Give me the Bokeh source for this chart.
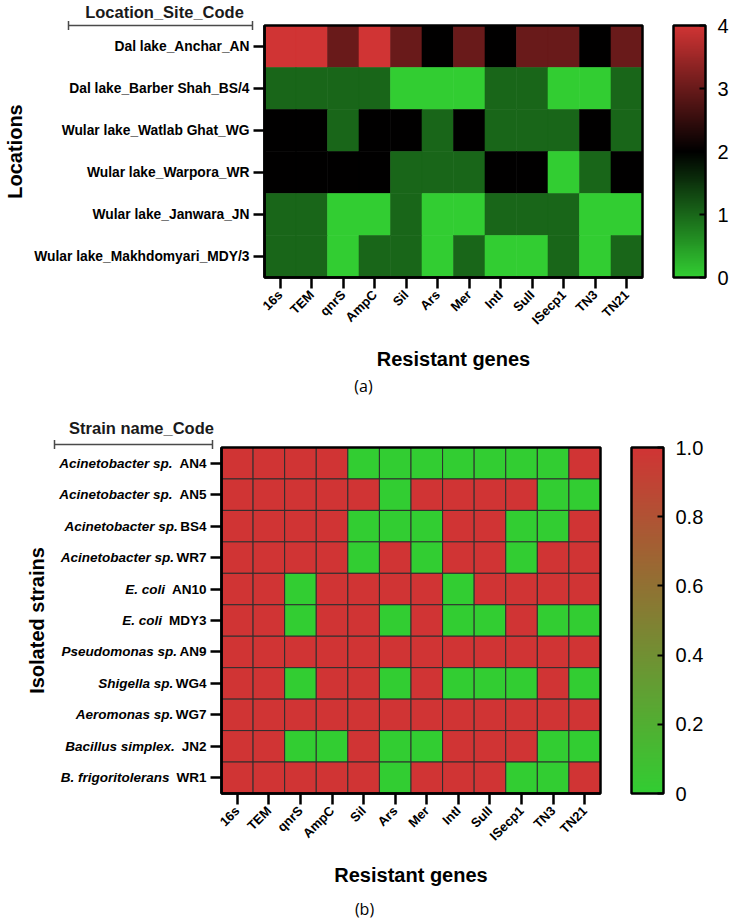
import math
from bokeh.plotting import figure
from bokeh.models import (Range1d, ColumnDataSource, LinearColorMapper, ColorBar, FixedTicker,
                          LinearAxis, Label, LabelSet, Arrow, TeeHead, PrintfTickFormatter)
from bokeh.layouts import column
from bokeh.embed import file_html
from bokeh.resources import INLINE
from bokeh.core.properties import value

# ---------------- data ----------------
genes = ["16s", "TEM", "qnrS", "AmpC", "Sil", "Ars", "Mer", "IntI", "SulI", "ISecp1", "TN3", "TN21"]

locations = ["Dal lake_Anchar_AN", "Dal lake_Barber Shah_BS/4", "Wular lake_Watlab Ghat_WG",
             "Wular lake_Warpora_WR", "Wular lake_Janwara_JN", "Wular lake_Makhdomyari_MDY/3"]
loc_anchar = [4, 4, 3, 4, 3, 2, 3, 2, 3, 3, 2, 3]
loc_barber_shah = [1, 1, 1, 1, 0, 0, 0, 1, 1, 0, 0, 1]
loc_watlab_ghat = [2, 2, 1, 2, 2, 1, 2, 1, 1, 1, 2, 1]
loc_warpora = [2, 2, 2, 2, 1, 1, 1, 2, 2, 0, 1, 2]
loc_janwara = [1, 1, 0, 0, 1, 0, 0, 1, 1, 1, 0, 0]
loc_makhdomyari = [1, 1, 0, 1, 1, 0, 1, 0, 0, 1, 0, 1]
location_values = [loc_anchar, loc_barber_shah, loc_watlab_ghat, loc_warpora, loc_janwara, loc_makhdomyari]

strain_species = ["Acinetobacter sp.", "Acinetobacter sp.", "Acinetobacter sp.", "Acinetobacter sp.",
                  "E. coli", "E. coli", "Pseudomonas sp.", "Shigella sp.", "Aeromonas sp.",
                  "Bacillus simplex.", "B. frigoritolerans"]
strain_codes = ["AN4", "AN5", "BS4", "WR7", "AN10", "MDY3", "AN9", "WG4", "WG7", "JN2", "WR1"]
strain_separators = [" ", " ", "", "", " ", " ", "", "", "", " ", " "]
st_an4 = [1, 1, 1, 1, 0, 0, 0, 0, 0, 0, 0, 1]
st_an5 = [1, 1, 1, 1, 1, 0, 1, 1, 1, 1, 0, 0]
st_bs4 = [1, 1, 1, 1, 0, 0, 0, 1, 1, 0, 0, 1]
st_wr7 = [1, 1, 1, 1, 0, 1, 0, 1, 1, 0, 1, 1]
st_an10 = [1, 1, 0, 1, 1, 1, 1, 0, 1, 1, 1, 1]
st_mdy3 = [1, 1, 0, 1, 1, 0, 1, 0, 0, 1, 0, 0]
st_an9 = [1, 1, 1, 1, 1, 1, 1, 1, 1, 1, 1, 1]
st_wg4 = [1, 1, 0, 1, 1, 0, 1, 0, 0, 0, 1, 0]
st_wg7 = [1, 1, 1, 1, 1, 1, 1, 1, 1, 1, 1, 1]
st_jn2 = [1, 1, 0, 0, 1, 0, 0, 1, 1, 1, 0, 0]
st_wr1 = [1, 1, 1, 1, 1, 0, 1, 1, 1, 0, 0, 1]
strain_values = [st_an4, st_an5, st_bs4, st_wr7, st_an10, st_mdy3, st_an9, st_wg4, st_wg7, st_jn2, st_wr1]

top_ticks = [0, 1, 2, 3, 4]
bottom_ticks = [0, 0.2, 0.4, 0.6, 0.8, 1.0]

# ---------------- style helpers ----------------
FONT = "Liberation Sans"
GREEN = (50, 205, 50)
RED = (208, 52, 52)
BLACK = (0, 0, 0)
BRACKET = "#4a4a4a"


def ramp(stops, n=256):
    out = []
    for i in range(n):
        t = i / (n - 1)
        for (p0, c0), (p1, c1) in zip(stops[:-1], stops[1:]):
            if p0 <= t <= p1:
                f = (t - p0) / (p1 - p0)
                break
        rgb = tuple(int(round(c0[k] + (c1[k] - c0[k]) * f)) for k in range(3))
        out.append("#%02x%02x%02x" % rgb)
    return out


# Liberation Sans Bold advance widths (1/1000 em), used to place the italic name part
BOLD_W = {"A": 722, "B": 722, "C": 722, "D": 722, "E": 667, "G": 778, "J": 556, "M": 833, "N": 722,
          "R": 722, "S": 667, "W": 944, "Y": 667, " ": 278}


def text_w(s, size):
    return sum(BOLD_W.get(ch, 556) for ch in s) * size / 1000.0


TICK = 11
STANDOFF = 4


def style_axis(ax, label_size):
    ax.axis_line_color = "black"
    ax.axis_line_width = 2.5
    ax.major_tick_line_color = "black"
    ax.major_tick_line_width = 2.5
    ax.major_tick_out = TICK
    ax.major_tick_in = 0
    ax.minor_tick_line_color = None
    ax.major_label_text_font = FONT
    ax.major_label_text_font_style = "bold"
    ax.major_label_text_color = "black"
    ax.major_label_text_font_size = label_size
    ax.major_label_standoff = STANDOFF
    ax.axis_label_text_font = FONT
    ax.axis_label_text_font_style = "bold"
    ax.axis_label_text_color = "black"
    ax.axis_label_text_font_size = "20px"


def heat_figure(n_rows, col_px, row_px, width, height, left_px, top_px):
    """Figure whose data unit = one heat-map cell; heat map occupies [0,n_cols]x[0,n_rows]."""
    bottom_px = height - top_px - n_rows * row_px
    p = figure(x_range=Range1d(-left_px / col_px, (width - left_px) / col_px),
               y_range=Range1d(-bottom_px / row_px, n_rows + top_px / row_px),
               width=width, height=height, min_border=0, x_axis_type=None, y_axis_type=None,
               toolbar_location=None, output_backend="svg", title=None)
    p.outline_line_color = None
    p.background_fill_color = "white"
    return p, bottom_px


def add_colorbar(p, mapper, ticks, x_px, y_px, bar_h, formatter=None, overrides=None):
    kw = {}
    if formatter is not None:
        kw["formatter"] = formatter
    cb = ColorBar(color_mapper=mapper, ticker=FixedTicker(ticks=ticks),
                  major_label_overrides=overrides or {},
                  width=32, height=bar_h, padding=0, margin=0, location=(x_px, y_px),
                  bar_line_color="black", bar_line_width=2.5,
                  major_tick_in=6, major_tick_out=0, major_tick_line_color="black",
                  major_tick_line_width=2, minor_tick_line_color=None,
                  major_label_text_font=FONT, major_label_text_font_size="20px",
                  major_label_text_color="black", label_standoff=12,
                  border_line_color=None, background_fill_alpha=0, **kw)
    p.add_layout(cb, "center")


def add_header(p, text, x0, x1, x_mid, y_line, y_text):
    p.add_layout(Arrow(x_start=x0, y_start=y_line, x_end=x1, y_end=y_line,
                       start=TeeHead(size=9, line_color=BRACKET, line_width=1.5),
                       end=TeeHead(size=9, line_color=BRACKET, line_width=1.5),
                       line_color=BRACKET, line_width=1.5))
    p.add_layout(Label(x=x_mid, y=y_text, text=text, text_align="center", text_baseline="middle",
                       text_font=FONT, text_font_style="bold", text_font_size="16.5px",
                       text_color="#1a1a1a"))


n_c = len(genes)
x_centers = [j + 0.5 for j in range(n_c)]


def add_x_axis(p):
    ax = LinearAxis(fixed_location=0, bounds=(0, n_c), ticker=FixedTicker(ticks=x_centers),
                    major_label_overrides=dict(zip(x_centers, genes)),
                    major_label_orientation=math.pi / 4, axis_label="Resistant genes",
                    axis_label_standoff=12)
    style_axis(ax, "13px")
    p.add_layout(ax, "below")


# ---------------- top heat map ----------------
n_r = len(locations)
C1, R1 = 31.5, 42.0
p1, _ = heat_figure(n_r, C1, R1, 731, 400, 264, 25)
pal_top = ramp([(0.0, GREEN), (0.5, BLACK), (1.0, RED)])
mapper_top = LinearColorMapper(palette=pal_top, low=0, high=4)

y_centers1 = [n_r - 1 - i + 0.5 for i in range(n_r)]
src1 = ColumnDataSource(dict(
    x=[x_centers[j] for i in range(n_r) for j in range(n_c)],
    y=[y_centers1[i] for i in range(n_r) for j in range(n_c)],
    val=[v for row in location_values for v in row],
))
cmap1 = {"field": "val", "transform": mapper_top}
p1.rect(x="x", y="y", width=1, height=1, source=src1, fill_color=cmap1, line_color=cmap1, line_width=0.6)
p1.rect(x=n_c / 2, y=n_r / 2, width=n_c, height=n_r, fill_color=None, line_color="black", line_width=2.5)

add_x_axis(p1)
yax1 = LinearAxis(fixed_location=0, bounds=(0, n_r), ticker=FixedTicker(ticks=y_centers1),
                  major_label_overrides=dict(zip(y_centers1, locations)),
                  axis_label="Locations", axis_label_standoff=5)
style_axis(yax1, "13.8px")
p1.add_layout(yax1, "left")

add_colorbar(p1, mapper_top, top_ticks, 673, 400 - 277, 252)
add_header(p1, "Location_Site_Code", -196 / C1, -12 / C1, -100 / C1, n_r, n_r + 13.5 / R1)
p1.add_layout(Label(x=99 / C1, y=-108 / R1, text="(a)", text_align="center", text_baseline="middle",
                    text_font="Open Sans", text_font_size="16px", text_color="black"))

# ---------------- bottom heat map ----------------
m_r = len(strain_codes)
C2, R2 = 379 / 12.0, 346 / 11.0
p2, bot2 = heat_figure(m_r, C2, R2, 731, 518, 221, 47)
pal_bot = ramp([(0.0, GREEN), (1.0, RED)])
mapper_bot = LinearColorMapper(palette=pal_bot, low=0, high=1)

y_centers2 = [m_r - 1 - i + 0.5 for i in range(m_r)]
src2 = ColumnDataSource(dict(
    x=[x_centers[j] for i in range(m_r) for j in range(n_c)],
    y=[y_centers2[i] for i in range(m_r) for j in range(n_c)],
    val=[v for row in strain_values for v in row],
))
p2.rect(x="x", y="y", width=1, height=1, source=src2,
        fill_color={"field": "val", "transform": mapper_bot}, line_color="#2e2e2e", line_width=1)
p2.rect(x=n_c / 2, y=m_r / 2, width=n_c, height=m_r, fill_color=None, line_color="black", line_width=2.5)

add_x_axis(p2)
yax2 = LinearAxis(fixed_location=0, bounds=(0, m_r), ticker=FixedTicker(ticks=y_centers2),
                  major_label_overrides=dict(zip(y_centers2, strain_codes)),
                  axis_label="Isolated strains", axis_label_standoff=118)
style_axis(yax2, "13.5px")
p2.add_layout(yax2, "left")

lab_size = 13.5
species_src = ColumnDataSource(dict(
    x=[0.0] * m_r,
    y=y_centers2,
    species=strain_species,
    xoff=[-(TICK + STANDOFF + text_w(c, lab_size) + (7 if s else 2.5))
          for c, s in zip(strain_codes, strain_separators)],
))
p2.add_layout(LabelSet(x="x", y="y", text="species", x_offset="xoff", source=species_src,
                       text_align="right", text_baseline="middle",
                       text_font=value(FONT), text_font_style="bold italic",
                       text_font_size="13.5px", text_color="black"))

add_colorbar(p2, mapper_bot, bottom_ticks, 631, bot2, 346,
             formatter=PrintfTickFormatter(format="%.1f"), overrides={0: "0"})
add_header(p2, "Strain name_Code", -167 / C2, -9 / C2, -80 / C2, m_r + 3 / R2, m_r + 19.5 / R2)
p2.add_layout(Label(x=143 / C2, y=-115 / R2, text="(b)", text_align="center", text_baseline="middle",
                    text_font="Open Sans", text_font_size="16px", text_color="black"))

layout = column(p1, p2, spacing=0)
open("out.html", "w").write(file_html(layout, INLINE))
